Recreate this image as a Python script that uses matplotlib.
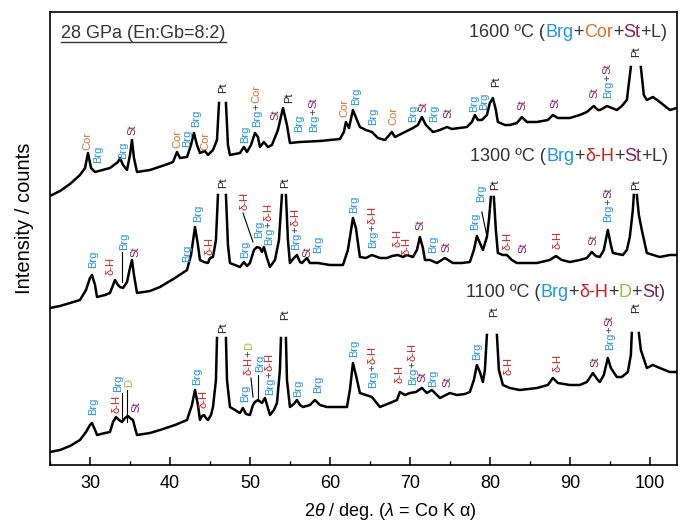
import numpy as np
import matplotlib
matplotlib.use("Agg")
import matplotlib.pyplot as plt
import matplotlib.transforms as mtransforms
from matplotlib.lines import Line2D
from matplotlib.ticker import MultipleLocator

plt.rcParams['font.family'] = ['Liberation Sans', 'DejaVu Sans']
plt.rcParams['mathtext.fontset'] = 'custom'
plt.rcParams['mathtext.rm'] = 'Liberation Sans'
plt.rcParams['mathtext.it'] = 'Liberation Sans:italic'

NAN = np.nan

# ---------------- data: XRD patterns (2theta in deg, intensity in arbitrary counts incl. offset)
tt_1600 = [25.0, 26.25, 27.5, 28.75, 29.38, 29.75, 30.13, 30.63, 32.5, 33.5, 33.75, 34.13, 34.63,
           35.0, 35.25, 35.5, 35.88, 37.5, 39.38, 40.38, 40.88, 41.25, 42.13, 42.63, 43.0, 43.38,
           43.75, 44.38, 44.75, 45.38, 45.88, 46.13, 46.5, 47.0, 47.25, 47.5, 48.75, 49.25, 49.63,
           50.13, 50.63, 51.0, 51.25, 51.75, 52.25, 52.75, 53.5, 54.13, 54.63, 55.0, 56.25, 58.75,
           61.25, 61.75, 62.0, 62.38, 62.88, 63.38, 63.75, 64.5, 65.25, 66.0, 66.88, 67.75, 68.13,
           69.13, 70.38, 71.0, 71.5, 72.0, 72.88, 73.75, 74.63, 75.25, 77.13, 77.75, 78.13, 78.5,
           79.0, 79.63, 80.0, 80.38, 80.75, 81.0, 81.88, 82.5, 83.38, 84.0, 84.63, 85.88, 87.25,
           87.88, 88.5, 90.0, 91.25, 92.13, 93.0, 93.5, 93.75, 94.25, 94.63, 95.25, 95.88, 96.5,
           97.13, 97.63, 98.25, 98.88, 99.25, 99.63, 100.38, 101.25, 102.5, 103.4]
int_1600 = [269, 274, 281, 290, 297, 312, 297, 293, 297, 303, 307, 300, 295,
            310, 325, 307, 293, 295, 300, 303, 313, 307, 308, 320, 332, 320,
            312, 314, 310, 315, 325, 362, NAN, 362, 320, 310, 312, 318, 313,
            320, 332, 328, 318, 323, 318, 320, 335, 357, 340, 322, 323, 324,
            326, 333, 343, 337, 355, 345, 338, 335, 333, 327, 325, 333, 328,
            332, 337, 340, 348, 340, 333, 335, 338, 336, 338, 343, 350, 345,
            345, 350, 362, 367, 355, 343, 340, 340, 342, 348, 343, 343, 345,
            350, 347, 347, 350, 353, 359, 355, 355, 357, 359, 357, 355, 359,
            365, 398, NAN, 398, 370, 365, 368, 363, 355, 357]

tt_1300 = [25.0, 26.25, 27.5, 28.75, 29.5, 30.0, 30.25, 30.63, 30.88, 31.88, 32.5, 32.88, 33.13,
           33.5, 33.75, 34.13, 34.63, 35.0, 35.25, 35.5, 35.88, 37.5, 38.75, 40.63, 42.13, 42.63,
           43.13, 43.5, 43.75, 44.25, 44.75, 45.0, 45.38, 45.75, 46.0, 46.5, 47.0, 47.25, 47.5,
           48.75, 49.25, 49.63, 50.0, 50.5, 50.88, 51.25, 51.5, 51.75, 52.13, 52.5, 53.13, 53.63,
           54.0, 54.25, 54.5, 54.75, 55.0, 55.5, 55.88, 56.25, 56.5, 57.13, 57.5, 58.5, 60.0,
           61.63, 62.25, 62.88, 63.25, 63.75, 64.5, 65.25, 66.25, 67.13, 67.75, 68.5, 69.13,
           69.63, 70.38, 70.88, 71.25, 71.63, 71.88, 72.5, 73.38, 74.38, 75.38, 76.5, 77.5, 78.0,
           78.38, 78.75, 79.13, 79.63, 79.88, 80.13, 80.3, 80.5, 80.75, 81.0, 81.63, 82.13,
           82.75, 83.38, 85.88, 87.5, 88.25, 89.0, 90.0, 91.25, 92.13, 92.75, 93.25, 93.75,
           94.25, 94.75, 95.13, 95.38, 96.63, 97.13, 97.5, 97.88, 98.0, 98.2, 98.38, 98.63,
           99.0, 99.63, 101.25, 102.5, 103.4]
int_1300 = [157, 159, 162, 165, 175, 187, 190, 180, 168, 170, 172, 180, 185,
            180, 178, 177, 183, 197, 205, 190, 172, 174, 178, 187, 195, 210,
            238, 220, 205, 203, 202, 207, 208, 225, 270, NAN, 270, 220, 202,
            198, 203, 199, 202, 215, 218, 217, 213, 218, 207, 198, 205, 225,
            270, NAN, 270, 225, 202, 207, 210, 203, 202, 207, 202, 202, 200,
            200, 215, 247, 237, 208, 207, 210, 207, 207, 209, 210, 208,
            210, 208, 215, 228, 217, 205, 205, 202, 207, 202, 202, 203, 215,
            229, 222, 215, 228, 245, 268, NAN, 268, 235, 212, 210, 210,
            205, 202, 202, 205, 209, 205, 203, 205, 207, 213, 209, 208,
            215, 235, 220, 212, 210, 215, 228, 255, 270, NAN, 270, 250,
            235, 212, 208, 210, 210]

tt_1100 = [25.0, 26.25, 27.5, 28.75, 29.5, 30.0, 30.25, 30.63, 30.88, 31.88, 32.5, 32.88, 33.25,
           33.63, 34.0, 34.38, 34.75, 35.0, 35.38, 35.63, 35.88, 37.5, 38.75, 40.63, 42.13, 42.75,
           43.13, 43.5, 43.75, 44.0, 44.25, 44.5, 44.75, 45.13, 45.38, 45.75, 45.88, 46.4, 47.0,
           47.13, 47.5, 48.75, 49.13, 49.5, 50.0, 50.38, 50.63, 51.0, 51.5, 51.88, 52.25, 52.5,
           53.0, 53.38, 53.75, 53.88, 54.2, 54.5, 54.63, 55.0, 55.5, 55.88, 56.25, 56.63, 57.5,
           58.13, 58.75, 59.63, 62.13, 62.5, 62.88, 63.25, 63.75, 64.5, 65.25, 65.75, 66.25,
           67.5, 68.38, 68.75, 69.38, 70.0, 70.75, 71.5, 72.13, 72.75, 73.75, 75.0, 75.88,
           76.88, 77.5, 78.0, 78.38, 78.75, 79.13, 79.38, 79.63, 80.25, 80.88, 81.13, 81.63,
           82.5, 83.75, 85.88, 87.25, 87.88, 88.5, 90.0, 91.25, 92.13, 92.88, 93.5, 93.75,
           94.25, 94.75, 95.13, 95.88, 96.5, 97.25, 97.63, 97.75, 98.2, 98.63, 98.88, 99.63,
           100.38, 101.25, 102.5, 103.4]
int_1100 = [13, 15, 19, 25, 33, 40, 42, 35, 30, 32, 33, 43, 48,
            45, 43, 47, 49, 47, 45, 37, 30, 32, 35, 40, 45, 60,
            75, 60, 45, 49, 50, 47, 45, 50, 58, 85, 127, NAN, 127,
            85, 58, 52, 57, 51, 50, 60, 63, 65, 62, 67, 57, 50,
            55, 62, 95, 127, NAN, 127, 85, 58, 61, 65, 60, 58, 60,
            65, 60, 58, 58, 75, 102, 90, 72, 70, 68, 63, 58,
            62, 65, 73, 70, 72, 73, 77, 72, 75, 67, 72, 70,
            71, 73, 85, 100, 93, 83, 95, 130, NAN, 130, 95, 80,
            77, 75, 77, 80, 87, 82, 80, 80, 83, 92, 85, 83,
            90, 107, 97, 88, 88, 93, 110, 132, NAN, 132, 115, 97,
            100, 97, 93, 93]

# ---------------- peak labels: (2theta, intensity at label start, phases)
labels_1600 = [(29.63, 315, ['Cor']), (30.88, 302, ['Brg']), (34.0, 306, ['Brg']),
               (35.25, 330, ['St']), (40.88, 317, ['Cor']), (42.0, 318, ['Brg']),
               (43.13, 338, ['Brg']), (44.38, 315, ['Cor']), (46.5, 372, ['Pt']),
               (49.25, 322, ['Brg']), (50.75, 338, ['Brg', 'Cor']), (53.13, 345, ['St']),
               (54.75, 362, ['Pt']), (56.0, 333, ['Brg']), (57.88, 333, ['Brg', 'St']),
               (61.75, 348, ['Cor']), (63.13, 360, ['Brg']), (65.25, 340, ['Brg']),
               (67.88, 340, ['Cor']), (70.25, 343, ['Brg']), (71.63, 353, ['St']),
               (72.88, 343, ['Brg']), (74.75, 347, ['St']), (77.88, 353, ['Brg']),
               (79.13, 355, ['Brg']), (80.63, 378, ['Pt']), (84.0, 355, ['St']),
               (88.13, 357, ['St']), (93.0, 367, ['St']), (94.63, 367, ['Brg', 'St']),
               (98.13, 408, ['Pt'])]
labels_1300 = [(30.25, 197, ['Brg']), (32.5, 190, ['δ-H']), (34.13, 215, ['Brg']),
               (35.63, 208, ['St']), (42.0, 203, ['Brg']), (43.38, 243, ['Brg']),
               (44.88, 210, ['δ-H']), (46.5, 277, ['Pt']), (49.25, 207, ['Brg']),
               (49.25, 255, ['δ-H']), (51.0, 227, ['Brg']), (52.25, 220, ['Brg', 'δ-H']),
               (54.25, 277, ['Pt']), (55.63, 215, ['Brg', 'δ-H']), (57.13, 208, ['St']),
               (58.38, 212, ['Brg']), (62.88, 252, ['Brg']), (65.25, 217, ['Brg', 'δ-H']),
               (68.38, 218, ['δ-H']), (69.5, 210, ['δ-H']), (71.25, 235, ['St']),
               (72.75, 212, ['Brg']), (74.5, 213, ['St']), (78.0, 235, ['Brg']),
               (78.75, 263, ['Brg']), (80.5, 275, ['Pt']), (82.13, 215, ['δ-H']),
               (84.13, 212, ['St']), (88.38, 216, ['δ-H']), (92.88, 220, ['St']),
               (94.75, 243, ['Brg', 'St']), (98.13, 275, ['Pt'])]
labels_1100 = [(30.25, 50, ['Brg']), (33.25, 52, ['δ-H']), (33.38, 73, ['Brg']),
               (34.75, 78, ['D']), (35.75, 53, ['St']), (43.25, 80, ['Brg']),
               (44.13, 57, ['δ-H']), (46.5, 132, ['Pt']), (49.25, 63, ['Brg']),
               (49.75, 90, ['δ-H', 'D']), (51.13, 93, ['Brg']), (52.38, 70, ['Brg', 'δ-H']),
               (54.25, 145, ['Pt']), (55.88, 68, ['Brg']), (58.38, 72, ['Brg']),
               (62.88, 108, ['Brg']), (65.25, 77, ['Brg', 'δ-H']), (68.63, 82, ['δ-H']),
               (70.25, 80, ['Brg', 'δ-H']), (71.5, 83, ['St']), (72.75, 78, ['Brg']),
               (74.63, 78, ['St']), (78.25, 105, ['Brg']), (80.38, 148, ['Pt']),
               (82.25, 90, ['δ-H']), (88.38, 93, ['δ-H']), (93.13, 98, ['St']),
               (94.88, 115, ['Brg', 'St']), (98.13, 152, ['Pt'])]

# leader lines: (2theta0, int0, 2theta1, int1)
leaders = [(34.0, 213, 34.0, 183), (49.13, 252, 50.38, 223), (79.0, 253, 79.63, 229),
           (34.0, 72, 34.0, 43), (34.63, 75, 34.63, 43), (50.13, 87, 50.38, 68),
           (51.0, 90, 51.0, 67)]

# headings: (2theta of right end, baseline intensity, temperature, phases)
headings = [(102.13, 428, '1600 ºC', ['Brg', 'Cor', 'St', 'L']),
            (102.25, 304, '1300 ºC', ['Brg', 'δ-H', 'St', 'L']),
            (101.88, 168, '1100 ºC', ['Brg', 'δ-H', 'D', 'St'])]

COLORS = {'Brg': '#1f95e6', 'Cor': '#dd6f26', 'St': '#8a1f5c', 'δ-H': '#d0201e',
          'D': '#8cc43c', 'Pt': '#222222', 'L': '#333333'}
PLUS = '#333333'

W, H = 686, 526
fig = plt.figure(figsize=(W / 100, H / 100), dpi=100)
ax = fig.add_axes([50 / W, 1 - 465 / H, (677 - 50) / W, (465 - 12) / H])
ax.set_xlim(25, 103.4)
ax.set_ylim(0, 453)

for tt, it in [(tt_1600, int_1600), (tt_1300, int_1300), (tt_1100, int_1100)]:
    ax.plot(tt, it, color='black', lw=1.8, solid_joinstyle='round')

renderer = fig.canvas.get_renderer()
LFS = 8.0


def vlabel(x, y, phases):
    pieces = []
    for i, p in enumerate(phases):
        if i > 0:
            pieces.append(('+', PLUS))
        pieces.append((p, COLORS[p]))
    off = 0.0
    for s, c in pieces:
        tr = mtransforms.offset_copy(ax.transData, fig=fig, x=3.8, y=off, units='dots')
        t = ax.text(x, y, s, color=c, rotation=90, rotation_mode='anchor',
                    ha='left', va='baseline', fontsize=LFS, transform=tr)
        off += t.get_window_extent(renderer).height


for lst in (labels_1600, labels_1300, labels_1100):
    for x, y, ph in lst:
        vlabel(x, y, ph)

for x0, y0, x1, y1 in leaders:
    ax.plot([x0, x1], [y0, y1], color='black', lw=0.8)

HFS = 13
for xr, yb, temp, ph in headings:
    pieces = [(temp + ' (', '#333333')]
    for i, p in enumerate(ph):
        if i > 0:
            pieces.append(('+', '#333333'))
        pieces.append((p, COLORS[p]))
    pieces.append((')', '#333333'))
    texts = []
    widths = []
    for s, c in pieces:
        t = ax.text(xr, yb, s, color=c, fontsize=HFS, ha='left', va='baseline')
        texts.append(t)
        widths.append(t.get_window_extent(renderer).width)
    total = sum(widths)
    off = -total
    for t, w in zip(texts, widths):
        t.set_transform(mtransforms.offset_copy(ax.transData, fig=fig, x=off, y=0, units='dots'))
        off += w

# title with underline
tt_title = ax.text(26.4, 427, '28 GPa (En:Gb=8:2)', fontsize=13, color='#333333',
                   ha='left', va='baseline')
bb = tt_title.get_window_extent(renderer)
x0f, x1f = bb.x0 / W, bb.x1 / W
yline = 1 - 42 / H
fig.add_artist(Line2D([x0f, x1f], [yline, yline], transform=fig.transFigure,
                      color='#333333', lw=1.0))

# axes styling
for sp in ax.spines.values():
    sp.set_linewidth(1.2)
ax.set_yticks([])
ax.xaxis.set_major_locator(MultipleLocator(10))
ax.xaxis.set_minor_locator(MultipleLocator(5))
ax.tick_params(axis='x', which='major', direction='in', length=6, width=1.1,
               labelsize=13, pad=7)
ax.tick_params(axis='x', which='minor', direction='in', length=3, width=1.0)
ax.set_xticks([30, 40, 50, 60, 70, 80, 90, 100])

ax.set_xlabel(r'2$\theta$ / deg. ($\lambda$ = Co K α)', fontsize=13)
ax.xaxis.set_label_coords((390 - 50) / (677 - 50), (465 - 512) / (465 - 12))
ax.xaxis.label.set_va('center')
ax.set_ylabel('Intensity / counts', fontsize=14.5)
ax.yaxis.set_label_coords((25 - 50) / (677 - 50), (465 - 218) / (465 - 12))
ax.yaxis.label.set_va('center')

fig.savefig('out.png', dpi=100)
